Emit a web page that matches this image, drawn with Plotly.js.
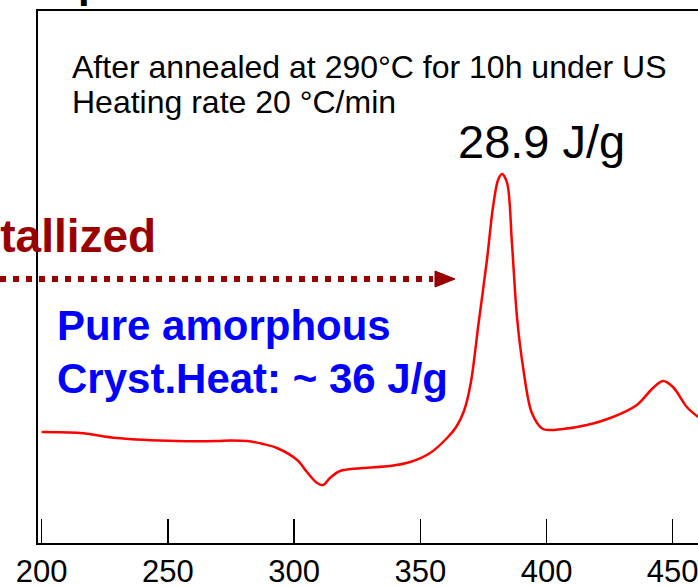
<!DOCTYPE html>
<html>
<head>
<meta charset="utf-8">
<script src="https://cdn.plot.ly/plotly-3.0.1.min.js"></script>
<style>
  html, body { margin: 0; padding: 0; background: #fff; overflow: hidden; width: 698px; height: 587px; }
  #chart { width: 760px; height: 587px; }
</style>
</head>
<body>
<div id="chart"></div>
<script>
// DSC trace (temperature in °C, heat flow in arbitrary units)
const temperature = [200.0, 215.2, 229.8, 253.6, 269.5, 274.6, 281.3, 287.7, 293.2, 301.2,
  305.1, 309.1, 311.5, 314.2, 318.2, 327.3, 338.0, 346.0, 353.9, 360.6,
  364.2, 367.3, 370.0, 373.1, 376.4, 378.8, 380.8, 382.4, 384.4, 386.3,
  388.3, 390.7, 394.2, 398.6, 406.5, 416.0, 426.3, 435.8, 442.2, 446.1,
  450.1, 455.6, 459.6, 462.0];
const heatFlow = [11.1, 11.0, 10.5, 10.2, 10.2, 10.25, 10.2, 9.9, 9.5, 8.3,
  7.1, 6.0, 5.8, 6.5, 7.2, 7.5, 7.7, 8.1, 9.0, 10.5,
  11.6, 13.2, 16.0, 22.0, 28.3, 33.6, 36.3, 36.9, 36.0, 30.0,
  22.6, 17.6, 13.0, 11.4, 11.4, 11.8, 12.6, 13.8, 15.5, 16.2,
  15.6, 13.6, 12.7, 12.3];
const tickValues = [200, 250, 300, 350, 400, 450];
const tickLabels = ['200', '250', '300', '350', '400', '450'];

const W = 760, H = 587, ML = 38, MR = 40, MT = 11, MB = 44;
const PW = W - ML - MR, PH = H - MT - MB;
const px = x => (x - ML) / PW;
const py = y => (H - MB - y) / PH;

const trace = {
  x: temperature, y: heatFlow, type: 'scatter', mode: 'lines',
  line: { color: '#ff0000', width: 2.5, shape: 'spline', smoothing: 0.9 },
  hoverinfo: 'skip', showlegend: false
};

function ann(text, x, y, size, color, bold, xanchor) {
  return {
    text: bold ? '<b>' + text + '</b>' : text,
    xref: 'paper', yref: 'paper', x: px(x), y: py(y),
    xanchor: xanchor || 'left', yanchor: 'middle', showarrow: false,
    font: { family: 'Liberation Sans, Arial, sans-serif', size: size, color: color }
  };
}

const layout = {
  width: W, height: H,
  margin: { l: ML, r: MR, t: MT, b: MB, pad: 0 },
  paper_bgcolor: '#ffffff', plot_bgcolor: '#ffffff',
  showlegend: false,
  xaxis: {
    range: [198.53, 198.53 + PW / 2.524],
    showline: true, linecolor: '#000', linewidth: 2, mirror: true,
    ticks: 'inside', ticklen: 24, tickwidth: 1.5, tickcolor: '#000',
    tickvals: tickValues, ticktext: tickLabels,
    tickfont: { family: 'Liberation Sans Narrow, Arial Narrow, Liberation Sans, Arial, sans-serif', size: 31, color: '#000' },
    showgrid: false, zeroline: false
  },
  yaxis: {
    range: [0, PH / 10],
    showline: true, linecolor: '#000', linewidth: 2,
    ticks: '', showticklabels: false, showgrid: false, zeroline: false
  },
  annotations: [
    ann('After annealed at 290°C for 10h under US', 70, 67, 32, '#000', false),
    ann('Heating rate 20 °C/min', 70, 102, 32, '#000', false),
    ann('28.9 J/g', 456, 141, 47, '#000', false),
    ann('Crystallized', 158, 236, 46, '#990000', true, 'right'),
    ann('Pure amorphous', 55, 325, 42, '#0000ff', true),
    ann('Cryst.Heat: ~ 36 J/g', 55, 378, 42, '#0000ff', true),
    ann('p', 76, -18, 42, '#000', true),
    ann('12.0', 495, -9, 28, '#ff0000', true),
    ann('7.0', 610, -9, 28, '#ff0000', true)
  ],
  shapes: [
    { type: 'line', xref: 'paper', yref: 'paper', x0: px(0), x1: px(433), y0: py(279), y1: py(279),
      line: { color: '#990000', width: 6, dash: '6px,7px' } },
    { type: 'path', xref: 'paper', yref: 'paper',
      path: 'M ' + px(435) + ' ' + py(271) + ' L ' + px(455) + ' ' + py(279) + ' L ' + px(435) + ' ' + py(287) + ' Z',
      fillcolor: '#990000', line: { color: '#990000', width: 1 } }
  ]
};

Plotly.newPlot('chart', [trace], layout, { staticPlot: true, displayModeBar: false });
</script>
</body>
</html>
